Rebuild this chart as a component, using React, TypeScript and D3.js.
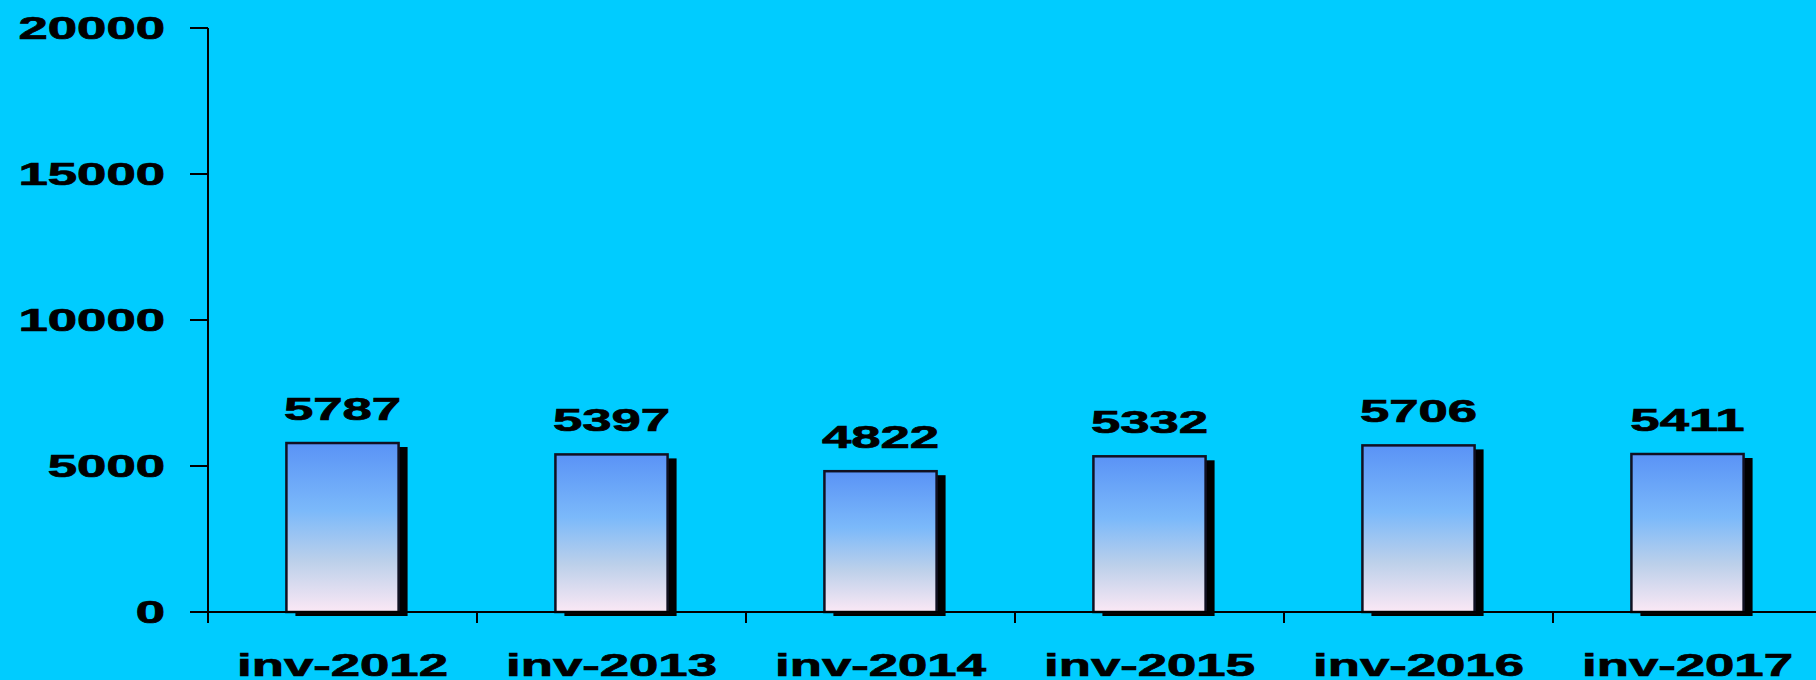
import React from 'react';
import * as d3 from 'd3';

const categories = ['inv-2012', 'inv-2013', 'inv-2014', 'inv-2015', 'inv-2016', 'inv-2017'];
const values = [5787, 5397, 4822, 5332, 5706, 5411];
const yTicks = [0, 5000, 10000, 15000, 20000];

const W = 1816;
const H = 680;
const SX = 1.7; // the source picture is stretched sideways
const font = '"Liberation Sans", Arial, sans-serif';

function StretchText({ x, y, anchor, children }: { x: number; y: number; anchor: string; children: React.ReactNode }) {
  return (
    <g transform={`translate(${x},${y}) scale(${SX},1)`}>
      <text x={0} y={0} textAnchor={anchor} fontFamily={font} fontWeight="bold" fontSize={31}
        fill="#000" stroke="#000" strokeWidth={0.7}>
        {children}
      </text>
    </g>
  );
}

export default function App() {
  const left = 208;
  const bandW = 269;

  const x = d3.scaleBand()
    .domain(categories)
    .range([left, left + bandW * categories.length])
    .paddingInner(0.583)
    .paddingOuter(0.2915);

  const y = d3.scaleLinear()
    .domain([0, 20000])
    .range([612, 28]);

  const bw = x.bandwidth();

  return (
    <svg width={W} height={H} style={{ position: 'absolute', left: 0, top: 0, display: 'block' }}>
      <defs>
        <linearGradient id="barFill" x1="0" y1="0" x2="0" y2="1">
          <stop offset="0%" stopColor="#5a93f6" />
          <stop offset="40%" stopColor="#7bb9fa" />
          <stop offset="70%" stopColor="#bcd0ea" />
          <stop offset="100%" stopColor="#fbe8f5" />
        </linearGradient>
      </defs>
      <rect x={0} y={0} width={W} height={H} fill="#00ccff" />

      {/* y axis */}
      <line x1={left} x2={left} y1={y(20000)} y2={y(0) + 11} stroke="#000" strokeWidth={2} />
      {yTicks.map(t => (
        <g key={t}>
          <line x1={left - 18} x2={left} y1={y(t)} y2={y(t)} stroke="#000" strokeWidth={2} />
          <StretchText x={165} y={y(t) + 11} anchor="end">{t}</StretchText>
        </g>
      ))}

      {/* bars */}
      {categories.map((c, i) => {
        const bx = x(c) as number;
        const by = y(values[i]);
        const bh = y(0) - by;
        return (
          <g key={c}>
            <rect x={bx + 9} y={by + 4} width={bw} height={bh} fill="#000" />
            <rect x={bx} y={by} width={bw} height={bh} fill="url(#barFill)" stroke="#111122" strokeWidth={2.5} />
            <StretchText x={bx + bw / 2} y={by - 23} anchor="middle">{values[i]}</StretchText>
          </g>
        );
      })}

      {/* x axis */}
      <line x1={left - 18} x2={W} y1={y(0)} y2={y(0)} stroke="#000" strokeWidth={2} />
      {d3.range(categories.length + 1).map(k => (
        <line key={k} x1={left + k * bandW} x2={left + k * bandW} y1={y(0)} y2={y(0) + 11} stroke="#000" strokeWidth={2} />
      ))}
      {categories.map(c => (
        <StretchText key={c} x={(x(c) as number) + bw / 2} y={676} anchor="middle">{c}</StretchText>
      ))}
    </svg>
  );
}
